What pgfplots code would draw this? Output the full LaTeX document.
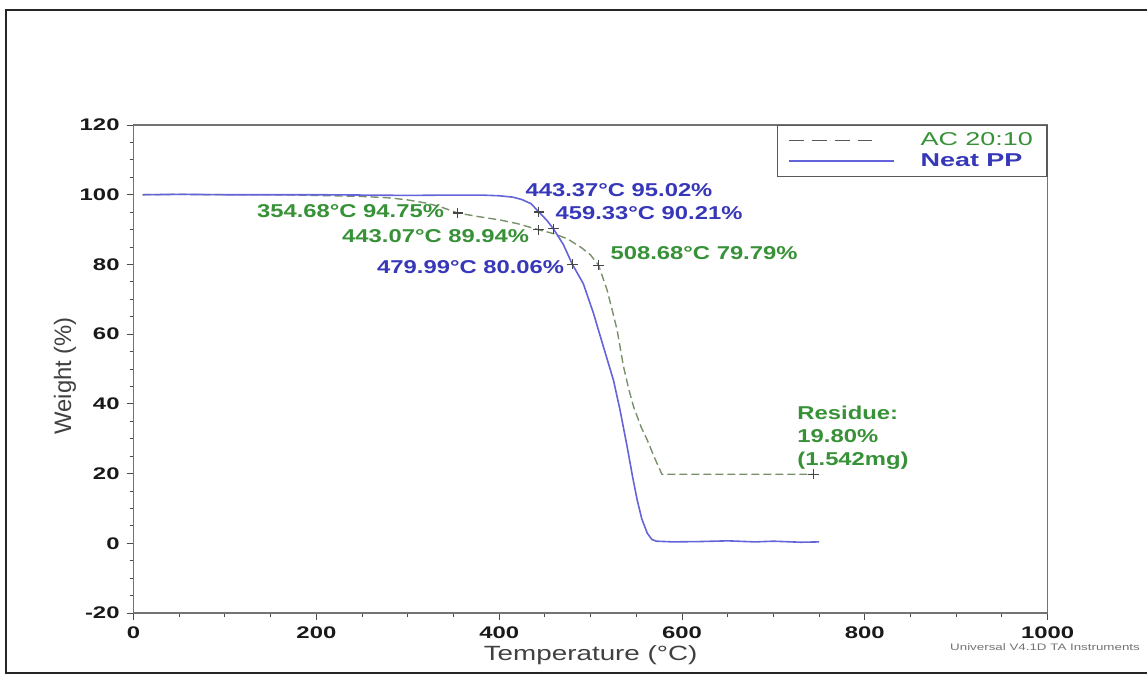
\documentclass[border=0pt]{standalone}
\usepackage{fontspec}
\setmainfont{Liberation Sans}
\newfontfamily\tickfont{Liberation Sans}[FakeStretch=1.42]
\newfontfamily\annfont{Liberation Sans}[FakeStretch=1.28]
\newfontfamily\legfont{Liberation Sans}[FakeStretch=1.45]
\newfontfamily\labfont{Liberation Sans}[FakeStretch=1.35]
\usepackage{pgfplots}
\pgfplotsset{compat=1.18}

\definecolor{annblue}{RGB}{55,55,185}
\definecolor{anngreen}{RGB}{55,145,55}
\definecolor{ppblue}{RGB}{100,100,218}
\definecolor{acgreen}{RGB}{120,145,105}
\definecolor{mkgray}{RGB}{70,70,70}

% TGA curves, temperature (C) vs weight (%)
\pgfplotstableread{
T w
10 100
50 100.1
100 100
150 100
200 99.8
250 99.5
280 99.1
300 98.5
320 97.6
335 96.6
354.68 94.75
380 93.6
400 92.8
420 91.7
443.07 89.94
460 88.8
475 87.3
490 84.8
500 82.7
508.68 79.79
518 72.7
524 66.5
529 61.2
536 50.7
542 44.0
547 39.2
555 33.5
562 29.6
570 24.5
576 21.0
578 19.8
600 19.8
650 19.8
700 19.8
744 19.8
}\acdata

\pgfplotstableread{
T w
10 100
50 100.1
100 100
150 100
200 100
250 99.9
300 99.8
350 99.9
380 99.9
400 99.7
415 99.3
425 98.6
435 97.4
443.37 95.02
452 92.7
459.33 90.21
470 85.8
479.99 80.06
492 74.5
503 66.1
514 56.4
525 46.8
532 38.5
540 27.7
546 19.0
551 12.4
556 7.0
562 2.9
567 1.1
572 0.6
590 0.4
620 0.5
650 0.7
680 0.4
700 0.6
730 0.3
750 0.4
}\ppdata

\begin{document}
\begin{tikzpicture}
\useasboundingbox (-66.8pt,-31pt) rectangle (506.7pt,306.5pt);
\draw[line width=1pt, black!85] (520pt,301.5pt) -- (-63.8pt,301.5pt) -- (-63.8pt,-30pt) -- (520pt,-30pt);
\begin{axis}[
  scale only axis,
  width=457pt, height=244pt,
  xmin=0, xmax=1000, ymin=-20, ymax=120,
  xtick={0,200,400,600,800,1000},
  xticklabels={0,200,400,600,800,1000},
  ytick={-20,0,20,40,60,80,100,120},
  yticklabels={-20,0,20,40,60,80,100,120},
  minor x tick num=3, minor y tick num=3,
  tick align=outside, tick pos=left,
  major tick length=3.5pt, minor tick length=2pt,
  every tick/.style={black!70, line width=0.5pt},
  axis line style={black!55, line width=0.7pt},
  ticklabel style={font=\tickfont\bfseries\fontsize{8.4}{9}\selectfont, text=black!90},
  xlabel={Temperature (°C)},
  ylabel={Weight (\%)},
  xlabel style={at={(axis description cs:0.5,-0.086)}, anchor=center,
    font=\labfont\fontsize{10.3}{12}\selectfont, text=black!75},
  ylabel style={at={(axis description cs:-0.075,0.486)}, anchor=center,
    font=\fontsize{11.9}{13}\selectfont, text=black!75},
  legend style={at={(1,1)}, anchor=north east, draw=black!65, line width=0.6pt,
    fill=white, inner xsep=5pt, inner ysep=1.5pt, row sep=-1.5pt,
    font=\legfont\fontsize{9.3}{10}\selectfont},
  legend cell align=left,
  clip=false,
]
\addplot[acgreen, line width=0.7pt, dash pattern=on 4pt off 2pt,
  legend image code/.code={
    \draw[black!65, line width=0.7pt, dash pattern=on 7.5pt off 4pt] (0pt,0pt) -- (41.5pt,0pt);
    \path[draw=none] (0pt,0pt) -- (64pt,0pt);}]
  table[x=T, y=w] {\acdata};
\addlegendentry{\textcolor{anngreen}{AC 20:10}}
\addplot[ppblue, line width=0.8pt,
  legend image code/.code={
    \draw[ppblue, line width=1pt] (0pt,0pt) -- (52.5pt,0pt);
    \path[draw=none] (0pt,0pt) -- (64pt,0pt);}]
  table[x=T, y=w] {\ppdata};
\addlegendentry{\textcolor{annblue}{\bfseries Neat PP}}

% marked points
\addplot[only marks, mark=+, mark size=2.6pt, mkgray, line width=0.6pt, forget plot]
  coordinates {(354.68,94.75) (443.07,89.94) (508.68,79.79) (744,19.8)
               (443.37,95.02) (459.33,90.21) (479.99,80.06)};

\begin{scope}[every node/.style={anchor=west, inner sep=0pt,
    font=\annfont\bfseries\fontsize{9.3}{11.7}\selectfont}]
\node[text=annblue] at (axis cs:428.4,101.35) {443.37°C 95.02\%};
\node[text=annblue] at (axis cs:461.3,94.67) {459.33°C 90.21\%};
\node[text=anngreen] at (axis cs:134.7,95.4) {354.68°C 94.75\%};
\node[text=anngreen] at (axis cs:227.8,88.0) {443.07°C 89.94\%};
\node[text=anngreen] at (axis cs:521.5,83.2) {508.68°C 79.79\%};
\node[text=annblue] at (axis cs:266.1,79.35) {479.99°C 80.06\%};
\node[text=anngreen, anchor=north west, align=left] at (axis cs:725.9,39.6)
  {Residue:\\19.80\%\\(1.542mg)};
\end{scope}
\node[anchor=west, inner sep=0pt, text=black!55,
  font=\tickfont\fontsize{4.7}{5}\selectfont]
  at (axis description cs:0.893,-0.069) {Universal V4.1D TA Instruments};
\end{axis}
\end{tikzpicture}
\end{document}
